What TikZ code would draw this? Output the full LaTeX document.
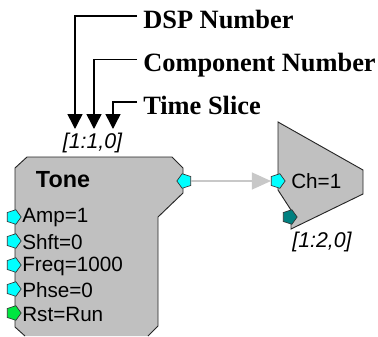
\documentclass[tikz,border=0pt]{standalone}
\usepackage{fontspec}
\setmainfont{Liberation Sans}
\newfontfamily\callfont{Liberation Serif}
\usetikzlibrary{arrows.meta,shapes.geometric}
\definecolor{blockgray}{HTML}{C0C0C0}
\definecolor{wiregray}{HTML}{C8C8C8}
\definecolor{portcyan}{HTML}{00FFFF}
\definecolor{portgreen}{HTML}{00E640}
\definecolor{portteal}{HTML}{008080}
\tikzset{
	block/.style={draw=black!85,fill=blockgray,line width=0.7pt},
	inport/.style={regular polygon,regular polygon sides=5,shape border rotate=-90,draw=black!80,fill=#1,line width=0.5pt,minimum size=11.5pt,inner sep=0pt},
	outport/.style={inport=#1,shape border rotate=90},
	portlabel/.style={anchor=west,inner sep=0pt,font=\fontsize{15.5}{15.5}\selectfont},
	callout/.style={anchor=west,inner xsep=4.5pt,inner ysep=0pt,text height=23pt,text depth=4.3pt,font=\callfont\bfseries\fontsize{19.8}{20}\selectfont},
	callwire/.style={line width=1.1pt,-{Triangle[length=11.25pt,width=11.25pt]}},
	slicelabel/.style={inner sep=0pt,font=\itshape\fontsize{16}{16}\selectfont}
}
\begin{document}
\begin{tikzpicture}[x=0.75pt,y=-0.75pt]
	\useasboundingbox (0,0) rectangle (378,336);
	% tone block
	\filldraw [block] (25,336) -- (15,327) -- (15,168) -- (27,157) -- (172,157) -- (183,168) -- (183,193) -- (158,217) -- (158,326) -- (148,336);
	\node [anchor=center,inner sep=0pt,font=\bfseries\fontsize{17.5}{17.5}\selectfont] (tone) at (63,180) {Tone};
	\node [inport=portcyan] (amp) at (13.5,217) {};
	\node [inport=portcyan] (shft) at (13.5,241) {};
	\node [inport=portcyan] (freq) at (13.5,265) {};
	\node [inport=portcyan] (phse) at (13.5,289) {};
	\node [inport=portgreen] (rst) at (13.5,313) {};
	\node [portlabel] (amplabel) at (22,218) {Amp=1};
	\node [portlabel] (shftlabel) at (22,242) {Shft=0};
	\node [portlabel] (freqlabel) at (22,266) {Freq=1000};
	\node [portlabel] (phselabel) at (22,290) {Phse=0};
	\node [portlabel] (rstlabel) at (22,314) {Rst=Run};
	\node [outport=portcyan] (toneout) at (184.5,181) {};
	% output block
	\filldraw [block] (278,122) -- (363,170) -- (363,194) -- (291,229) -- (291,210) -- (278,190) -- cycle;
	\node [inport=portcyan] (chin) at (277.5,181) {};
	\node [inport=portteal] (chmute) at (289.5,217) {};
	\node [portlabel] (chlabel) at (291,181) {Ch=1};
	\node [slicelabel] (chindex) at (322,242) {[1:2,0]};
	\draw [wiregray,line width=0.8pt,-{Triangle[length=14.25pt,width=12.75pt]}] (toneout) -- (chin);
	% index callouts
	\node [slicelabel] (toneindex) at (92.5,143) {[1:1,0]};
	\coordinate (dsptip) at (75,129);
	\coordinate (comptip) at (94,129);
	\coordinate (slicetip) at (113,129);
	\node [callout] (dsp) at (137,16) {DSP Number};
	\node [callout] (comp) at (137,59.5) {Component Number};
	\node [callout] (slice) at (137,102) {Time Slice};
	\draw [callwire] (dsp.west) -| (dsptip);
	\draw [callwire] (comp.west) -| (comptip);
	\draw [callwire] (slice.west) -| (slicetip);
\end{tikzpicture}
\end{document}
